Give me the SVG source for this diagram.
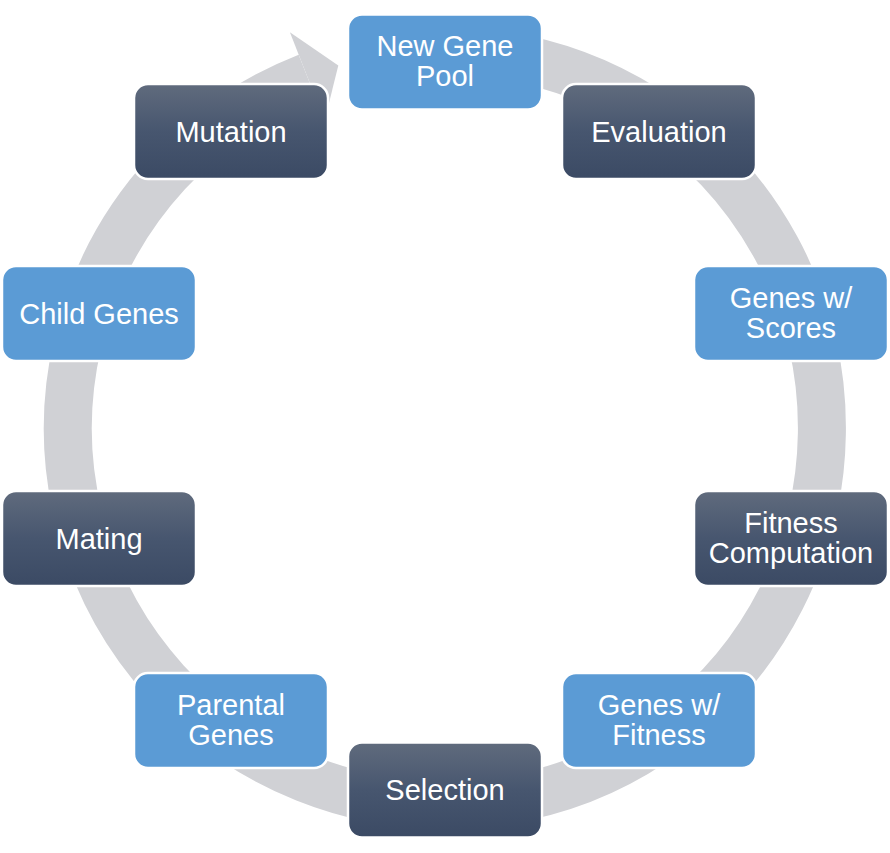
<svg xmlns="http://www.w3.org/2000/svg" width="890" height="853" viewBox="0 0 890 853">
  <defs>
    <linearGradient id="dark" x1="0" y1="0" x2="0" y2="1">
      <stop offset="0" stop-color="#606b7d"/>
      <stop offset="0.5" stop-color="#47566f"/>
      <stop offset="1" stop-color="#3b4a64"/>
    </linearGradient>
    <style>
      .ring { fill: none; stroke: #d0d1d5; stroke-width: 48; stroke-linecap: butt; }
      .head { fill: #d0d1d5; }
      .box { stroke: #ffffff; stroke-width: 2.5; }
      .light .box { fill: #5b9bd5; }
      .dark .box { fill: url(#dark); }
      .label { font-family: "Liberation Sans", Arial, sans-serif; font-size: 29px; fill: #ffffff; text-anchor: middle; }
    </style>
  </defs>
  <rect width="890" height="853" fill="#ffffff"/>
  <g id="connectors">
    <path class="ring" d="M 484.4 53.1 A 377 377 0 1 1 307.4 77.0"/>
    <polygon class="head" points="289.9,32.3 338.3,65.4 324.6,120.7"/>
  </g>
  <g id="node-new-gene-pool" class="light">
    <rect class="box" x="348" y="14.5" width="194" height="95" rx="14"/>
    <text class="label" x="445" y="56">New Gene</text>
    <text class="label" x="445" y="86">Pool</text>
  </g>
  <g id="node-evaluation" class="dark">
    <rect class="box" x="562" y="84" width="194" height="95" rx="14"/>
    <text class="label" x="659" y="141.5">Evaluation</text>
  </g>
  <g id="node-genes-scores" class="light">
    <rect class="box" x="694" y="266" width="194" height="95" rx="14"/>
    <text class="label" x="791" y="307.5">Genes w/</text>
    <text class="label" x="791" y="337.5">Scores</text>
  </g>
  <g id="node-fitness-computation" class="dark">
    <rect class="box" x="694" y="491" width="194" height="95" rx="14"/>
    <text class="label" x="791" y="532.5">Fitness</text>
    <text class="label" x="791" y="562.5">Computation</text>
  </g>
  <g id="node-genes-fitness" class="light">
    <rect class="box" x="562" y="673" width="194" height="95" rx="14"/>
    <text class="label" x="659" y="714.5">Genes w/</text>
    <text class="label" x="659" y="744.5">Fitness</text>
  </g>
  <g id="node-selection" class="dark">
    <rect class="box" x="348" y="742.5" width="194" height="95" rx="14"/>
    <text class="label" x="445" y="800">Selection</text>
  </g>
  <g id="node-parental-genes" class="light">
    <rect class="box" x="134" y="673" width="194" height="95" rx="14"/>
    <text class="label" x="231" y="714.5">Parental</text>
    <text class="label" x="231" y="744.5">Genes</text>
  </g>
  <g id="node-mating" class="dark">
    <rect class="box" x="2" y="491" width="194" height="95" rx="14"/>
    <text class="label" x="99" y="548.5">Mating</text>
  </g>
  <g id="node-child-genes" class="light">
    <rect class="box" x="2" y="266" width="194" height="95" rx="14"/>
    <text class="label" x="99" y="323.5">Child Genes</text>
  </g>
  <g id="node-mutation" class="dark">
    <rect class="box" x="134" y="84" width="194" height="95" rx="14"/>
    <text class="label" x="231" y="141.5">Mutation</text>
  </g>
</svg>
